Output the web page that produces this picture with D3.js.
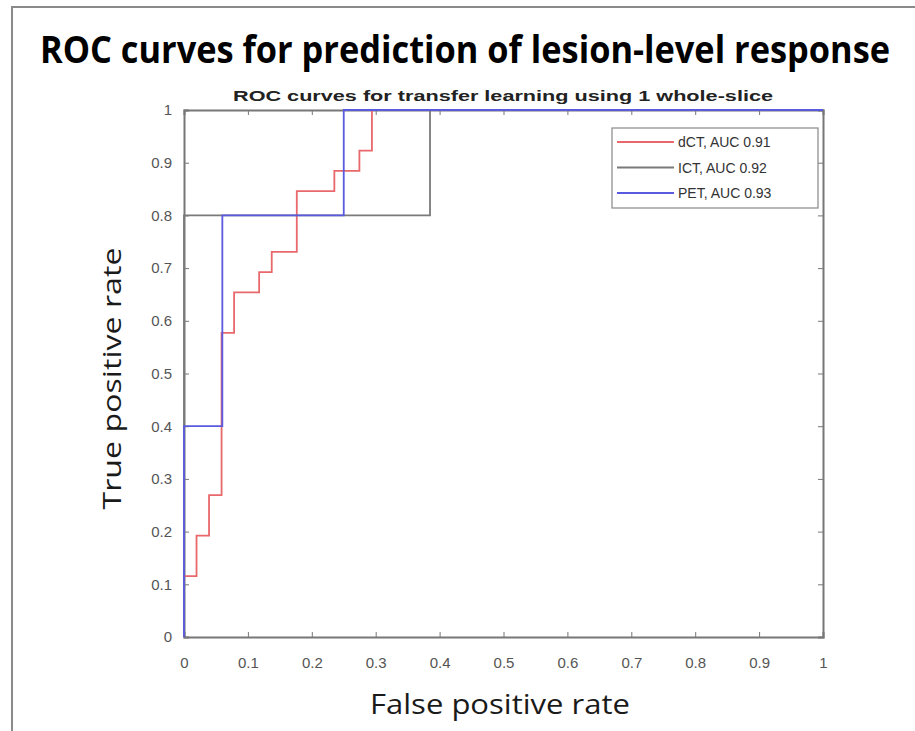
<!DOCTYPE html>
<html><head><meta charset="utf-8">
<script src="https://cdn.jsdelivr.net/npm/d3@7"></script>
<style>body{margin:0;background:#fff}svg{display:block}</style>
</head><body>
<script>
const xTicks = [0,0.1,0.2,0.3,0.4,0.5,0.6,0.7,0.8,0.9,1];
const yTicks = [0,0.1,0.2,0.3,0.4,0.5,0.6,0.7,0.8,0.9,1];
const seriesNames = ["dCT, AUC 0.91","ICT, AUC 0.92","PET, AUC 0.93"];
const seriesColors = ["#e8686c","#7a7a7a","#5a5ae0"];
// step ROC points (fpr, tpr)
const dctFpr = [0,0,0.0196,0.0196,0.0392,0.0392,0.0588,0.0588,0.0784,0.0784,0.1176,0.1176,0.1373,0.1373,0.1765,0.1765,0.2353,0.2353,0.2745,0.2745,0.2941,0.2941,1];
const dctTpr = [0,0.1154,0.1154,0.1923,0.1923,0.2692,0.2692,0.5769,0.5769,0.6538,0.6538,0.6923,0.6923,0.7308,0.7308,0.8462,0.8462,0.8846,0.8846,0.9231,0.9231,1,1];
const ictFpr = [0,0,0.385,0.385,1];
const ictTpr = [0,0.8,0.8,1,1];
const petFpr = [0,0,0.06,0.06,0.25,0.25,1];
const petTpr = [0,0.4,0.4,0.8,0.8,1,1];

const W=915,H=731;
const svg=d3.select("body").append("svg").attr("width",W).attr("height",H);
// outer frame
svg.append("path").attr("d",`M12,${H} L12,7 L${W},7`).attr("fill","none").attr("stroke","#8a8a8a").attr("stroke-width",2);

svg.append("text").attr("transform","translate(465,63) scale(1,1.09)").attr("text-anchor","middle")
  .attr("font-family","'Open Sans', 'Noto Sans', sans-serif").attr("font-weight","bold")
  .attr("font-size",34).attr("textLength",850).attr("lengthAdjust","spacingAndGlyphs")
  .attr("fill","#000").text("ROC curves for prediction of lesion-level response");

const L=184,R=823,T=110,B=637;
const x=d3.scaleLinear().domain([0,1]).range([L,R]);
const y=d3.scaleLinear().domain([0,1]).range([B,T]);

svg.append("text").attr("x",503).attr("y",101).attr("text-anchor","middle")
  .attr("font-family","'Liberation Sans', Arial, sans-serif").attr("font-weight","bold")
  .attr("font-size",15).attr("textLength",540).attr("lengthAdjust","spacingAndGlyphs")
  .attr("fill","#222").text("ROC  curves for transfer learning using 1 whole-slice");

const axisCol="#777";
const tickFont="'Liberation Sans', Arial, sans-serif";
// axes with inward ticks
const gx=svg.append("g").attr("transform",`translate(0,${B})`)
  .call(d3.axisBottom(x).tickValues(xTicks).tickSize(-5).tickPadding(20).tickFormat(d=>d3.format("")(d)));
const gxt=svg.append("g").attr("transform",`translate(0,${T})`)
  .call(d3.axisTop(x).tickValues(xTicks).tickSize(-5).tickFormat(""));
const gy=svg.append("g").attr("transform",`translate(${L},0)`)
  .call(d3.axisLeft(y).tickValues(yTicks).tickSize(-5).tickPadding(12).tickFormat(d=>d3.format("")(d)));
const gyr=svg.append("g").attr("transform",`translate(${R},0)`)
  .call(d3.axisRight(y).tickValues(yTicks).tickSize(-5).tickFormat(""));
[gx,gxt,gy,gyr].forEach(g=>{
  g.select(".domain").attr("stroke",axisCol).attr("stroke-width",2);
  g.selectAll(".tick line").attr("stroke",axisCol);
  g.selectAll("text").attr("font-family",tickFont).attr("font-size",15).attr("fill","#555");
});

const line=d3.line().x(d=>x(d[0])).y(d=>y(d[1]));
const series=[d3.zip(dctFpr,dctTpr),d3.zip(ictFpr,ictTpr),d3.zip(petFpr,petTpr)];
series.forEach((s,i)=>{
  svg.append("path").datum(s).attr("d",line).attr("fill","none")
    .attr("stroke",seriesColors[i]).attr("stroke-width",1.8);
});

// legend
const lg=svg.append("g");
lg.append("rect").attr("x",612).attr("y",128).attr("width",206).attr("height",80)
  .attr("fill","#fff").attr("stroke","#888").attr("stroke-width",1.2);
seriesNames.forEach((n,i)=>{
  const yy=142+i*25.5;
  lg.append("line").attr("x1",617).attr("x2",674).attr("y1",yy).attr("y2",yy)
    .attr("stroke",seriesColors[i]).attr("stroke-width",1.8);
  lg.append("text").attr("x",678).attr("y",yy+5).attr("font-family",tickFont)
    .attr("font-size",14).attr("fill","#333").text(n);
});

svg.append("text").attr("transform",`translate(121,${(T+B)/2+5}) rotate(-90)`).attr("text-anchor","middle")
  .attr("font-family","'Open Sans', 'Noto Sans', sans-serif").attr("font-size",26)
  .attr("textLength",262).attr("lengthAdjust","spacingAndGlyphs")
  .attr("fill","#1a1a1a").text("True positive rate");
svg.append("text").attr("x",500).attr("y",714).attr("text-anchor","middle")
  .attr("font-family","'Open Sans', 'Noto Sans', sans-serif").attr("font-size",27)
  .attr("textLength",260).attr("lengthAdjust","spacingAndGlyphs")
  .attr("fill","#1a1a1a").text("False positive rate");
</script>
</body></html>
